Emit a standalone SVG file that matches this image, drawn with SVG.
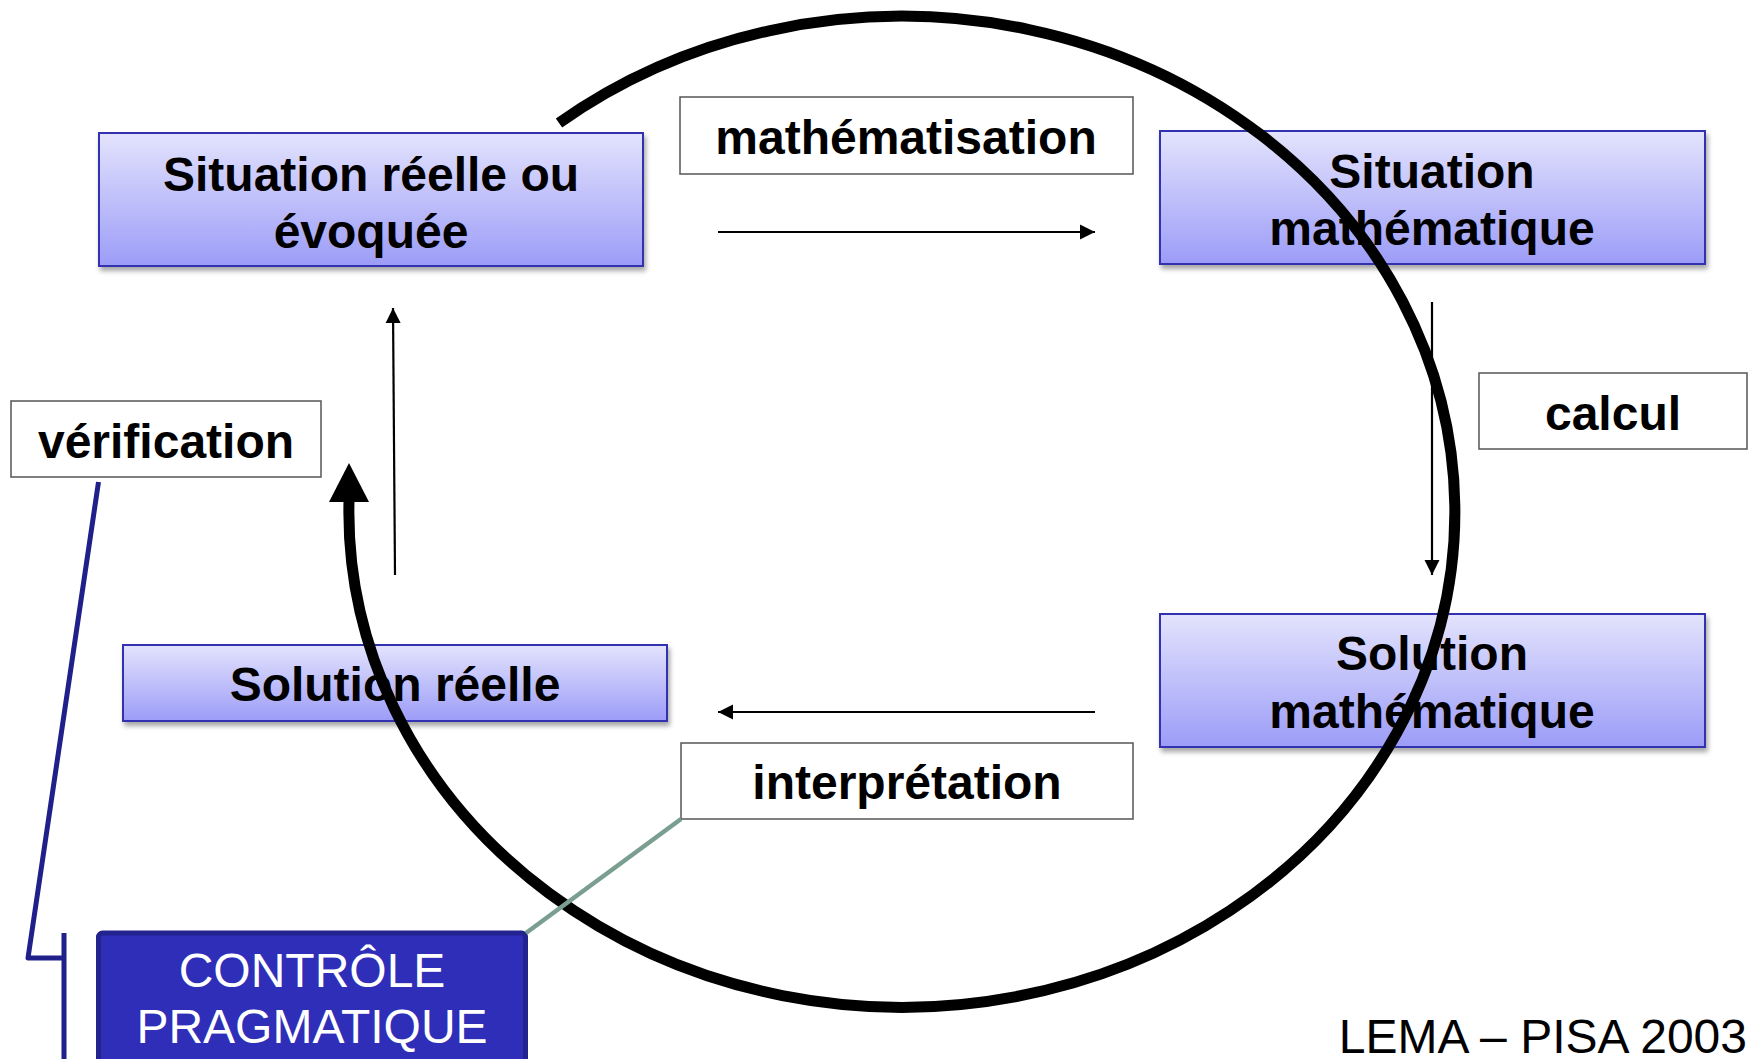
<svg xmlns="http://www.w3.org/2000/svg" width="1756" height="1059" viewBox="0 0 1756 1059">
  <defs>
    <linearGradient id="gBox" x1="0" y1="0" x2="0" y2="1">
      <stop offset="0" stop-color="#e3e3fd"/>
      <stop offset="1" stop-color="#9c9cf8"/>
    </linearGradient>
    <filter id="shadow" x="-5%" y="-10%" width="110%" height="130%">
      <feDropShadow dx="2" dy="4" stdDeviation="2.5" flood-color="#000" flood-opacity="0.35"/>
    </filter>
    <marker id="arr" viewBox="0 0 10 10" refX="10" refY="5" markerWidth="7" markerHeight="7" markerUnits="strokeWidth" orient="auto">
      <path d="M0,0 L10,5 L0,10 z" fill="#000"/>
    </marker>
  </defs>
  <style>
    .node { fill: url(#gBox); stroke: #3030b0; stroke-width: 2; filter: url(#shadow); }
    .lbl { fill: #fff; stroke: #555; stroke-width: 1.5; }
    .t { font-family: "Liberation Sans", Arial, sans-serif; font-weight: bold; font-size: 48px; fill: #000; text-anchor: middle; dominant-baseline: central; }
    .w { font-family: "Liberation Sans", Arial, sans-serif; font-size: 48px; fill: #fff; text-anchor: middle; dominant-baseline: central; }
    .thin { stroke: #000; stroke-width: 2.2; fill: none; marker-end: url(#arr); }
  </style>
  <rect width="1756" height="1059" fill="#fff"/>

  <g id="n-situation-reelle">
    <rect class="node" x="99" y="133" width="544" height="133"/>
    <text class="t" x="371" y="174">Situation réelle ou</text>
    <text class="t" x="371" y="231">évoquée</text>
  </g>
  <g id="n-situation-math">
    <rect class="node" x="1160" y="131" width="545" height="133"/>
    <text class="t" x="1432" y="171">Situation</text>
    <text class="t" x="1432" y="228">mathématique</text>
  </g>
  <g id="n-solution-math">
    <rect class="node" x="1160" y="614" width="545" height="133"/>
    <text class="t" x="1432" y="653">Solution</text>
    <text class="t" x="1432" y="711">mathématique</text>
  </g>
  <g id="n-solution-reelle">
    <rect class="node" x="123" y="645" width="544" height="76"/>
    <text class="t" x="395" y="684">Solution réelle</text>
  </g>

  <g id="l-mathematisation">
    <rect class="lbl" x="680" y="97" width="453" height="77"/>
    <text class="t" x="906" y="137">mathématisation</text>
  </g>
  <g id="l-calcul">
    <rect class="lbl" x="1479" y="373" width="268" height="76"/>
    <text class="t" x="1613" y="413">calcul</text>
  </g>
  <g id="l-interpretation">
    <rect class="lbl" x="681" y="743" width="452" height="76"/>
    <text class="t" x="907" y="782">interprétation</text>
  </g>
  <g id="l-verification">
    <rect class="lbl" x="11" y="401" width="310" height="76"/>
    <text class="t" x="166" y="441">vérification</text>
  </g>

  <g id="n-controle">
    <rect x="98.5" y="933" width="427" height="140" rx="4" fill="#2e2eb8" stroke="#23238f" stroke-width="5"/>
    <text class="w" x="312" y="970">CONTRÔLE</text>
    <text class="w" x="312" y="1026">PRAGMATIQUE</text>
  </g>

  <g id="connectors">
    <line class="thin" x1="718" y1="232" x2="1095" y2="232"/>
    <line class="thin" x1="1432" y1="302" x2="1432" y2="575"/>
    <line class="thin" x1="1095" y1="712" x2="718" y2="712"/>
    <line class="thin" x1="395" y1="575" x2="393" y2="308"/>
    <path d="M 559 123 A 553 495.5 0 1 1 349 501" fill="none" stroke="#000" stroke-width="11"/>
    <polygon points="349,463 329,502 369,502" fill="#000"/>
    <polyline points="98.5,482 28,958 64,958" fill="none" stroke="#20208a" stroke-width="5" stroke-linejoin="round"/>
    <line x1="64" y1="933" x2="64" y2="1059" stroke="#20208a" stroke-width="5"/>
    <line x1="681" y1="819" x2="526" y2="933" stroke="#7a9e90" stroke-width="4.5"/>
  </g>

  <text x="1747" y="1036" font-family="Liberation Sans, Arial, sans-serif" font-size="48" fill="#000" text-anchor="end" dominant-baseline="central">LEMA – PISA 2003</text>
</svg>
